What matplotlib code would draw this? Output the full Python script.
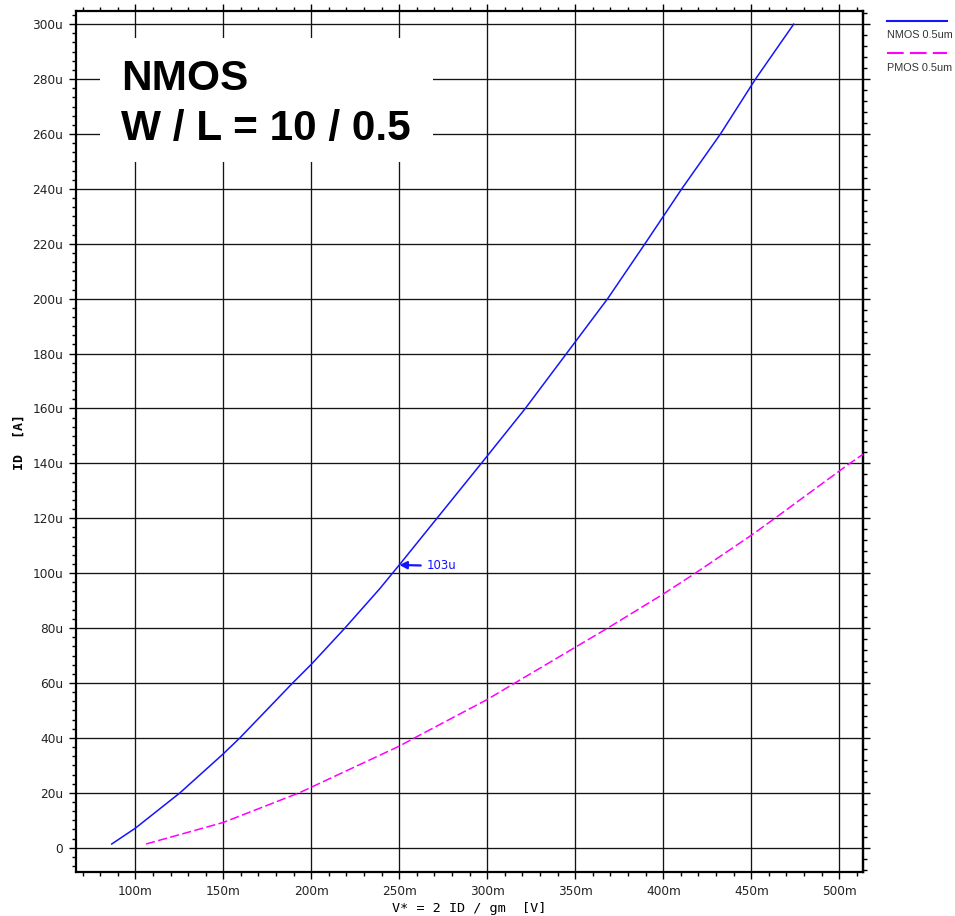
import numpy as np
import matplotlib
matplotlib.use("Agg")
import matplotlib.pyplot as plt
from matplotlib.lines import Line2D
from matplotlib.patches import Rectangle
from matplotlib.ticker import MultipleLocator, AutoMinorLocator, FuncFormatter

# overdrive V* in mV, drain current in uA
nmos_vstar = [86.6, 100, 125.4, 150, 159.4, 189.4, 200, 219.1, 238.7, 250, 271.4, 296.6,
              321.6, 345, 368.4, 389.6, 410.5, 432.5, 452.4, 474.1]
nmos_id = [1.35, 7.1, 20, 34.2, 40, 60, 66.8, 80, 94.2, 103, 120, 140,
           160, 180, 200, 220, 240, 260, 280, 300]

pmos_vstar = [106.1, 150, 193.2, 250, 261.6, 300, 315.7, 368.4, 400, 418.2,
              450, 463.4, 500, 506, 513.7]
pmos_id = [1.35, 9.2, 20, 37, 41, 54, 60, 80, 92.4, 100,
           113.8, 120, 137.2, 140, 143.4]

marker_v = 250
marker_i = 103

legend_names = ["NMOS 0.5um", "PMOS 0.5um"]
blue = "#1414ff"
magenta = "#ff00ff"


def amp_label(v, pos):
    v = int(round(v))
    return "0" if v == 0 else "%du" % v


fig = plt.figure(figsize=(9.55, 9.16), dpi=100)
ax = fig.add_axes([76 / 955, 44 / 916, 787 / 955, 861 / 916])

ax.plot(nmos_vstar, nmos_id, color=blue, lw=1.1, zorder=3)
ax.plot(pmos_vstar, pmos_id, color=magenta, lw=1.1, dashes=(6, 2.2), zorder=3)

ax.set_xlim(66.3, 513.5)
ax.set_ylim(-8.85, 304.8)

ax.xaxis.set_major_locator(MultipleLocator(50))
ax.xaxis.set_minor_locator(AutoMinorLocator(5))
ax.yaxis.set_major_locator(MultipleLocator(20))
ax.yaxis.set_minor_locator(AutoMinorLocator(6))
ax.xaxis.set_major_formatter(FuncFormatter(lambda v, p: "%dm" % round(v)))
ax.yaxis.set_major_formatter(FuncFormatter(amp_label))

ax.grid(True, which="major", color="0.08", lw=0.95, zorder=1)
ax.set_axisbelow(True)

for s in ax.spines.values():
    s.set_linewidth(1.6)
ax.tick_params(which="both", direction="out", top=True, right=False,
               labelsize=8.7, labelcolor="#222222", width=1)
ax.tick_params(which="major", length=5, pad=4.2)
ax.tick_params(which="minor", length=3)

# right side ticks use a finer minor spacing
sec = ax.secondary_yaxis("right")
sec.yaxis.set_major_locator(MultipleLocator(20))
sec.yaxis.set_minor_locator(AutoMinorLocator(5))
sec.tick_params(which="both", direction="out", labelright=False, width=1)
sec.tick_params(which="major", length=5)
sec.tick_params(which="minor", length=3)
sec.spines["right"].set_linewidth(1.6)

ax.set_xlabel("V* = 2 ID / gm  [V]", family="DejaVu Sans Mono", fontsize=9.7, labelpad=3)
ax.set_ylabel("ID  [A]", family="DejaVu Sans Mono", fontsize=9.5, fontweight="bold", labelpad=5)

# device label box over the grid
ax.add_patch(Rectangle((0.0305, 0.8246), 0.4231, 0.144, transform=ax.transAxes,
                       facecolor="white", edgecolor="none", zorder=4))
ax.text(0.0568, 0.9083, "NMOS", transform=ax.transAxes, family="Liberation Sans",
        fontweight="bold", fontsize=30.5, va="baseline", zorder=5)
ax.text(0.0568, 0.8502, "W / L = 10 / 0.5", transform=ax.transAxes, family="Liberation Sans",
        fontweight="bold", fontsize=30.5, va="baseline", zorder=5)

ax.annotate("%du" % marker_i, xy=(marker_v, marker_i), xytext=(27, -1), textcoords="offset pixels",
            color=blue, fontsize=8.5, va="center", ha="left",
            arrowprops=dict(arrowstyle="-|>", color=blue, lw=1.6, mutation_scale=11,
                            shrinkA=2, shrinkB=0), zorder=6)

# legend to the right of the plot area
fig.add_artist(Line2D([887 / 955, 947 / 955], [1 - 20.7 / 916, 1 - 20.7 / 916],
                      color=blue, lw=1.5))
fig.text(887 / 955, 1 - 37.5 / 916, legend_names[0], family="Liberation Sans",
         fontsize=7.8, color="#333333", va="baseline")
fig.add_artist(Line2D([887 / 955, 947 / 955], [1 - 53.3 / 916, 1 - 53.3 / 916],
                      color=magenta, lw=1.5, dashes=(8, 3)))
fig.text(887 / 955, 1 - 71 / 916, legend_names[1], family="Liberation Sans",
         fontsize=7.8, color="#333333", va="baseline")

fig.savefig("out.png", dpi=100)
